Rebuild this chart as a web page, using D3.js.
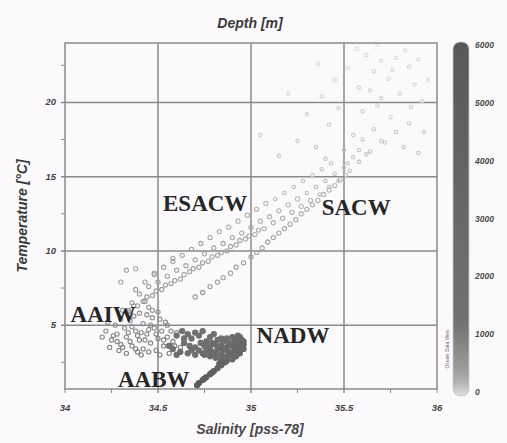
<!DOCTYPE html>
<html>
<head>
<meta charset="utf-8">
<script src="https://cdn.jsdelivr.net/npm/d3@7"></script>
<style>
  html, body { margin: 0; padding: 0; background: #fcf9fc; }
  svg { display: block; }
</style>
</head>
<body>
<svg id="chart" width="507" height="443"></svg>
<script>
// Axis ranges and ticks
const salDomain = [34, 36];
const tempDomain = [0.7, 24];
const depthDomain = [0, 6000];
const salTicks = [34, 34.5, 35, 35.5, 36];
const salMinor = [34.25, 34.75, 35.25, 35.75];
const tempTicks = [5, 10, 15, 20];
const tempMinor = [2.5, 7.5, 12.5, 17.5, 22.5];
const depthTicks = [0, 1000, 2000, 3000, 4000, 5000, 6000];

// Samples: [salinity, temperature, depth]
const surfaceWater = [
  [35.62,23.2,40],[35.70,22.8,30],[35.78,23.0,20],[35.85,22.4,50],[35.66,22.1,60],
  [35.74,21.6,40],[35.88,21.2,30],[35.58,21.0,70],[35.80,20.6,60],[35.70,20.3,80],
  [35.92,20.1,50],[35.52,22.3,30],[35.45,21.5,40],[35.38,20.4,60],[35.30,19.2,90],
  [35.47,19.6,80],[35.60,19.4,90],[35.75,19.0,70],[35.85,18.6,100],[35.93,18.0,90],
  [35.66,18.2,110],[35.55,17.8,120],[35.42,18.5,100],[35.25,17.4,130],[35.35,17.0,140],
  [35.72,17.3,120],[35.82,17.0,130],[35.90,16.6,140],[35.62,16.5,150],[35.50,16.8,140],
  [35.15,16.4,120],[35.05,17.8,80],[35.20,20.6,40],[35.57,23.6,20],[35.83,23.5,20],
  [35.68,23.9,10],[35.90,22.9,30],[35.76,22.2,40],[35.64,20.8,70],[35.86,19.7,80],
  [35.36,22.6,20],[35.95,21.5,30],[35.78,18.0,110],[35.40,16.2,160],[35.68,19.8,90]
];
const centralWaterUpper = [
  [34.36,6.5,520],[34.40,7.1,480],[34.42,6.6,500],[34.45,7.6,450],[34.47,7.0,470],
  [34.50,7.9,430],[34.52,7.4,450],[34.55,8.3,410],[34.57,7.8,430],[34.60,8.7,390],
  [34.62,8.1,410],[34.65,9.0,370],[34.67,8.6,390],[34.70,9.4,350],[34.72,8.9,370],
  [34.75,9.8,330],[34.77,9.3,350],[34.80,10.2,310],[34.82,9.7,330],[34.85,10.5,300],
  [34.87,10.0,310],[34.90,10.9,290],[34.92,10.4,300],[34.95,11.2,270],[34.97,10.8,280],
  [35.00,11.6,250],[35.02,11.1,260],[35.05,12.0,240],[35.07,11.5,250],[35.10,12.3,230],
  [35.12,11.9,240],[35.15,12.7,220],[35.17,12.2,230],[35.20,13.1,210],[35.22,12.6,220],
  [35.25,13.5,200],[35.27,13.0,210],[35.30,13.9,190],[35.32,13.4,200],[35.35,14.3,180],
  [35.37,13.8,190],[35.40,14.7,170],[35.42,14.3,180],[35.45,15.2,160],[35.47,14.7,170],
  [35.50,15.6,150],[35.52,15.9,140],[35.55,16.3,130],[35.58,16.8,120],[35.60,17.5,110],
  [34.33,8.7,300],[34.38,8.8,280],[34.58,9.5,320],[34.30,7.9,350],[34.48,8.4,330],
  [34.38,7.4,470],[34.43,7.9,440],[34.48,8.5,420],[34.53,8.9,400],[34.58,9.3,380],
  [34.63,9.7,360],[34.68,10.1,340],[34.73,10.5,320],[34.78,10.9,300],[34.83,11.3,280],
  [34.88,11.6,260],[34.93,12.0,250],[34.98,12.4,230],[35.03,12.8,220],[35.08,13.2,200],
  [35.13,13.5,190],[35.18,13.9,180],[35.23,14.3,170],[35.28,14.7,160],[35.33,15.1,150],
  [35.38,15.5,140],[35.43,15.9,130],
  [34.34,6.0,560],[34.39,6.3,540],[34.44,6.9,500],[34.49,7.3,480],[34.54,7.7,460],
  [34.59,8.0,440],[34.64,8.4,420],[34.69,8.8,400],[34.74,9.2,380],[34.79,9.6,360],
  [34.84,9.9,340],[34.89,10.3,320],[34.94,10.7,300],[34.99,11.0,280],[35.04,11.4,270]
];
const centralWaterLower = [
  [34.70,6.9,520],[34.78,7.6,490],[34.85,8.2,460],[34.92,8.9,430],[35.00,9.6,400],
  [35.06,10.2,370],[35.12,10.9,340],[35.18,11.5,310],[35.24,12.1,280],[35.30,12.8,260],
  [35.36,13.4,240],[35.42,14.1,220],[35.48,14.8,200],[35.53,15.4,180],[35.58,16.0,160],
  [35.64,16.7,140],[35.70,17.4,120],[34.74,7.2,510],[34.82,7.9,470],[34.89,8.5,440],
  [34.96,9.2,410],[35.03,9.9,380],[35.09,10.6,350],[35.15,11.2,320],[35.21,11.8,300],
  [35.27,12.5,270],[35.33,13.1,250],[35.39,13.8,230],[35.45,14.4,210],[35.51,15.1,190]
];
const intermediateWater = [
  [34.25,4.0,820],[34.28,4.4,780],[34.30,3.7,860],[34.32,4.8,740],[34.33,4.2,800],
  [34.35,5.3,700],[34.36,3.6,880],[34.38,4.6,760],[34.40,5.8,660],[34.40,4.0,840],
  [34.42,5.1,720],[34.42,3.4,920],[34.44,4.4,800],[34.45,6.2,620],[34.46,3.8,880],
  [34.47,5.5,700],[34.48,4.8,760],[34.49,3.3,960],[34.50,4.1,860],[34.50,5.9,640],
  [34.52,4.6,820],[34.53,3.6,940],[34.54,5.2,740],[34.55,4.2,880],[34.56,3.1,1000],
  [34.27,5.0,720],[34.30,5.4,680],[34.34,5.9,640],[34.37,6.3,600],[34.39,3.2,960],
  [34.22,4.6,760],[34.24,3.5,880],[34.29,3.3,920],[34.31,6.0,620],[34.43,6.6,580],
  [34.46,5.0,760],[34.51,3.0,1040],[34.58,3.9,920],[34.60,4.5,860],[34.62,3.5,980],
  [34.36,4.9,760],[34.41,4.5,800],[34.44,5.7,680],[34.33,3.1,940],[34.26,4.3,800],
  [34.20,4.2,800],[34.23,5.2,720],[34.28,3.9,860],[34.34,4.5,800],[34.37,5.6,680],
  [34.39,4.3,820],[34.43,4.0,860],[34.45,4.7,780],[34.47,6.0,620],[34.49,4.4,840],
  [34.51,5.4,720],[34.53,4.0,900],[34.55,5.0,780],[34.57,4.6,840],[34.59,3.6,960],
  [34.31,3.5,900],[34.35,3.9,860],[34.38,3.4,920],[34.41,3.0,1000],[34.45,3.2,980]
];
const deepWater = [
  [34.60,4.3,1300],[34.63,4.6,1250],[34.66,4.4,1350],[34.68,4.1,1450],[34.70,4.5,1400],
  [34.72,4.3,1500],[34.74,4.6,1450],[34.64,3.8,1550],[34.67,3.6,1650],[34.70,3.5,1750],
  [34.73,3.8,1700],[34.76,3.6,1850],[34.78,4.2,1700],[34.80,4.4,1650],[34.58,3.4,1600],
  [34.62,3.2,1800],[34.66,3.1,1900],[34.70,3.0,2000],[34.74,3.1,2100],[34.78,3.2,2200],
  [34.64,4.1,1500],[34.68,3.3,1850],[34.72,3.3,1950],[34.60,3.0,1900],[34.56,3.6,1500],
  [34.75,3.0,2300],[34.76,3.3,2200],[34.75,3.6,2000],[34.76,3.9,1900],
  [34.78,2.9,2500],[34.79,3.2,2400],[34.78,3.5,2200],[34.79,3.8,2000],
  [34.81,2.8,2700],[34.81,3.1,2500],[34.82,3.4,2400],[34.81,3.7,2200],[34.82,4.0,2000],
  [34.84,2.7,2900],[34.84,3.0,2700],[34.85,3.3,2600],[34.84,3.6,2400],[34.85,3.9,2200],[34.84,4.1,2100],
  [34.87,2.6,3100],[34.87,2.9,2900],[34.88,3.2,2800],[34.87,3.5,2600],[34.88,3.8,2400],[34.87,4.1,2200],
  [34.90,2.7,3200],[34.90,3.0,3000],[34.91,3.3,2900],[34.90,3.6,2700],[34.91,3.9,2500],[34.90,4.2,2300],
  [34.92,2.9,3300],[34.93,3.2,3100],[34.92,3.5,2900],[34.93,3.8,2700],[34.92,4.1,2500],[34.93,4.3,2300],
  [34.94,3.1,3300],[34.95,3.4,3100],[34.94,3.7,2900],[34.95,4.0,2700],[34.94,4.2,2500],
  [34.96,3.4,3200],[34.96,3.7,3000],[34.96,3.9,2800]
];
const bottomWater = [
  [34.86,2.5,3800],[34.84,2.3,4000],[34.82,2.1,4200],[34.80,1.9,4400],[34.78,1.7,4600],
  [34.76,1.5,4800],[34.74,1.3,5000],[34.72,1.1,5200],[34.71,0.95,5400],[34.83,2.4,3900],
  [34.79,1.8,4500],[34.75,1.4,4900]
];

// Water mass annotations: [label, salinity, temperature]
const waterMassLabels = [
  ["ESACW", 34.527, 12.7],
  ["SACW", 35.38, 12.4],
  ["AAIW", 34.03, 5.2],
  ["NADW", 35.03, 3.8],
  ["AABW", 34.285, 0.84]
];

const svg = d3.select("#chart");
const plot = { left: 65, right: 437, top: 43, bottom: 389 };

const x = d3.scaleLinear().domain(salDomain).range([plot.left, plot.right]);
const y = d3.scaleLinear().domain(tempDomain).range([plot.bottom, plot.top]);
const color = d3.scaleLinear().domain([0, 300, 1200, 6000])
  .range(["#dedede", "#a6a6a6", "#727272", "#585858"]);

const gridColor = "#8a8a8a";
const tickFont = "Liberation Sans, Arial, sans-serif";

// Grid lines (extend past the frame as major ticks)
svg.append("g").selectAll("line").data(salTicks.slice(1, -1)).join("line")
  .attr("x1", d => x(d)).attr("x2", d => x(d))
  .attr("y1", plot.top).attr("y2", plot.bottom + 4)
  .attr("stroke", gridColor).attr("stroke-width", 1.5);
svg.append("g").selectAll("line").data(tempTicks).join("line")
  .attr("x1", plot.left - 4).attr("x2", plot.right)
  .attr("y1", d => y(d)).attr("y2", d => y(d))
  .attr("stroke", gridColor).attr("stroke-width", 1.5);

// Minor ticks
svg.append("g").selectAll("line").data(tempMinor).join("line")
  .attr("x1", plot.left - 4).attr("x2", plot.left)
  .attr("y1", d => y(d)).attr("y2", d => y(d))
  .attr("stroke", gridColor).attr("stroke-width", 1);
svg.append("g").selectAll("line").data(salMinor.concat([34, 36])).join("line")
  .attr("x1", d => x(d)).attr("x2", d => x(d))
  .attr("y1", plot.bottom).attr("y2", plot.bottom + 4)
  .attr("stroke", gridColor).attr("stroke-width", 1);

// Scatter points, shallow first so deep water sits on top
const allPoints = [].concat(surfaceWater, centralWaterUpper, centralWaterLower,
  intermediateWater, deepWater, bottomWater).sort((a, b) => a[2] - b[2]);
svg.append("g").selectAll("circle").data(allPoints).join("circle")
  .attr("cx", d => x(d[0])).attr("cy", d => y(d[1]))
  .attr("r", d => d[2] < 200 ? 1.7 : d[2] >= 1200 ? 2.6 : 2.1)
  .attr("fill", d => d[2] >= 1200 ? color(d[2]) : "none")
  .attr("stroke", d => color(d[2])).attr("stroke-width", 1.1);

// Frame
svg.append("rect")
  .attr("x", plot.left).attr("y", plot.top)
  .attr("width", plot.right - plot.left).attr("height", plot.bottom - plot.top)
  .attr("fill", "none").attr("stroke", gridColor).attr("stroke-width", 1.5);

// Tick labels
svg.append("g").selectAll("text").data(salTicks).join("text")
  .attr("x", d => x(d)).attr("y", 411)
  .attr("text-anchor", "middle")
  .attr("font-family", tickFont).attr("font-size", 9.5).attr("font-weight", "bold").attr("font-style", "italic")
  .attr("fill", "#444")
  .text(d => d);
svg.append("g").selectAll("text").data(tempTicks).join("text")
  .attr("x", 56).attr("y", d => y(d) + 3)
  .attr("text-anchor", "end")
  .attr("font-family", tickFont).attr("font-size", 9.5).attr("font-weight", "bold").attr("font-style", "italic")
  .attr("fill", "#444")
  .text(d => d);

// Titles
svg.append("text").attr("x", 250).attr("y", 28).attr("text-anchor", "middle")
  .attr("font-family", tickFont).attr("font-size", 14).attr("font-weight", "bold").attr("font-style", "italic")
  .attr("fill", "#3a3a3a").text("Depth [m]");
svg.append("text").attr("x", 250).attr("y", 434).attr("text-anchor", "middle")
  .attr("font-family", tickFont).attr("font-size", 14).attr("font-weight", "bold").attr("font-style", "italic")
  .attr("fill", "#4a4a4a").text("Salinity [pss-78]");
svg.append("text").attr("transform", "translate(27,216) rotate(-90)").attr("text-anchor", "middle")
  .attr("font-family", tickFont).attr("font-size", 14).attr("font-weight", "bold").attr("font-style", "italic")
  .attr("fill", "#3a3a3a").text("Temperature [°C]");

// Water mass labels
svg.append("g").selectAll("text").data(waterMassLabels).join("text")
  .attr("x", d => x(d[1])).attr("y", d => y(d[2]))
  .attr("font-family", "Liberation Serif, Times New Roman, serif")
  .attr("font-size", 23).attr("font-weight", "bold")
  .attr("fill", "#262626")
  .text(d => d[0]);

// Colour bar
const cb = { x: 453, w: 16, top: 42, bottom: 396 };
const cy = d3.scaleLinear().domain(depthDomain).range([cb.bottom - 4, cb.top + 3]);
const defs = svg.append("defs");
const grad = defs.append("linearGradient").attr("id", "depthGrad")
  .attr("x1", 0).attr("y1", 1).attr("x2", 0).attr("y2", 0);
d3.range(0, 6001, 250).forEach(v => {
  grad.append("stop").attr("offset", v / 6000).attr("stop-color", color(v));
});
svg.append("rect")
  .attr("x", cb.x).attr("y", cb.top).attr("width", cb.w).attr("height", cb.bottom - cb.top)
  .attr("rx", 7).attr("ry", 7)
  .attr("fill", "url(#depthGrad)").attr("stroke", "#c8c8c8").attr("stroke-width", 0.8);
svg.append("g").selectAll("text").data(depthTicks).join("text")
  .attr("x", 475).attr("y", d => cy(d) + 3)
  .attr("font-family", tickFont).attr("font-size", 8.5).attr("font-weight", "bold").attr("font-style", "italic")
  .attr("fill", "#4a4a4a")
  .text(d => d);
svg.append("text").attr("transform", "translate(449,349) rotate(-90)").attr("text-anchor", "middle")
  .attr("font-family", tickFont).attr("font-size", 5).attr("fill", "#666")
  .text("Ocean Data View");
</script>
</body>
</html>
